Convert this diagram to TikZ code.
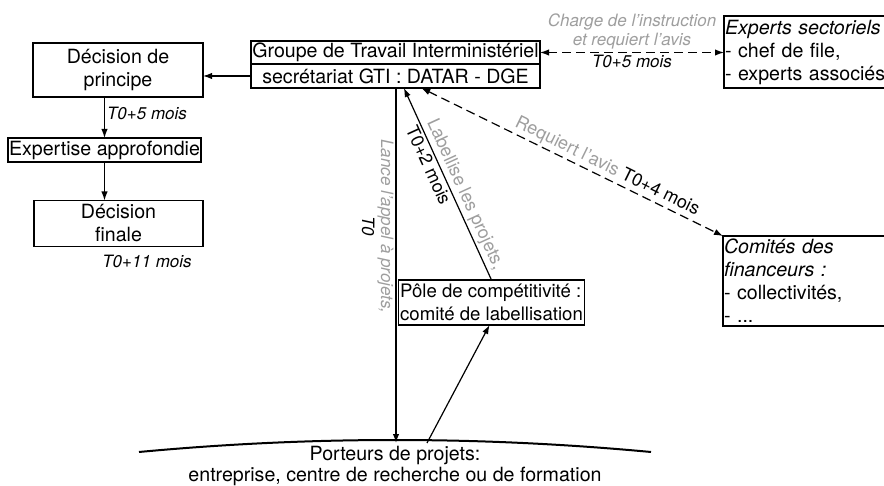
\documentclass[tikz,border=0pt]{standalone}
\usepackage{fontspec}
\setmainfont{TeX Gyre Heros}
\usetikzlibrary{arrows.meta}
\usetikzlibrary{positioning}
\definecolor{labelGray}{HTML}{9E9E9E}

\begin{document}
\begin{tikzpicture}[x=0.5pt,y=-0.5pt,>={Latex[length=4.5pt,width=3.2pt]},line width=0.6pt]
\tikzset{BoxNode/.style={
  draw,
  rectangle,
  align=center,
  inner sep=0.5pt,
  outer sep=0pt,
  font=\fontsize{9.8}{11.5}\selectfont,
}}
\tikzset{ListNode/.style={
  BoxNode,
  align=left,
  anchor=west,
  text width=86pt,
}}
\tikzset{TimeLabel/.style={
  font=\fontsize{8.5}{9.5}\selectfont\itshape,
  inner sep=1pt,
}}
\tikzset{PlainLabel/.style={
  font=\fontsize{9}{10}\selectfont,
  inner sep=1pt,
}}
\tikzset{GrayLabel/.style={
  TimeLabel,
  text=labelGray,
}}
\tikzset{DashedLink/.style={<->, dash pattern=on 4.5pt off 2.5pt}}

\useasboundingbox (0,0) rectangle (884,486);

% GTI
\node[BoxNode, minimum width=144.5pt, minimum height=11.5pt] (gtiTop) at (395.5,52.5) {Groupe de Travail Interministériel};
\node[BoxNode, minimum width=144.5pt, minimum height=12pt, below=0pt of gtiTop] (gtiBot) {secrétariat GTI : DATAR - DGE};

% decisions
\node[BoxNode, minimum width=85pt, minimum height=27pt] (principe) at (118,70) {Décision de\\principe};
\node[BoxNode, minimum width=92.5pt, minimum height=12pt] (expertise) at (104.5,150) {Expertise approfondie};
\node[BoxNode, minimum width=84.5pt, minimum height=23pt] (finale) at (118.5,223.5) {Décision\\finale};
\node[TimeLabel] (tOnze) at (147,261) {T0+11 mois};

% experts, financeurs (cut at the right edge)
\node[ListNode, minimum height=36pt] (experts) at (724,52) {\textit{Experts sectoriels}\\- chef de file,\\- experts associés};
\node[ListNode, minimum height=45pt] (comites) at (723,281) {\textit{Comités des}\\\textit{financeurs :}\\- collectivités,\\- ...};

% pole
\node[BoxNode, align=left, inner xsep=0.8pt, minimum width=88.5pt, minimum height=22.5pt,
      font=\fontsize{9.3}{11.5}\selectfont] (pole) at (491.5,302.5) {Pôle de compétitivité :\\comité de labellisation};

% porteurs
\coordinate (arcL) at (139,452);
\coordinate (arcR) at (651,452);
\coordinate (porteursA) at (396,443);
\coordinate (porteursB) at (427,443);
\draw[line width=1pt] (arcL) .. controls (310,436) and (480,436) .. (arcR);
\node[BoxNode, draw=none, anchor=south, inner sep=0pt, font=\fontsize{9.8}{8.3}\selectfont] (porteurs) at (395,485.5) {Porteurs de projets:\\entreprise, centre de recherche ou de formation};

% links
\draw[->] (gtiBot.west) -- (gtiBot.west -| principe.east);
\draw[->] (principe.south -| expertise.north) -- (expertise.north)
  node[TimeLabel, right, pos=0.4] {T0+5 mois};
\draw[->] (expertise.south) -- (expertise.south |- finale.north);
\draw[DashedLink] (gtiTop.east) -- (gtiTop.east -| experts.west)
  node[GrayLabel, midway, above=0.5pt, align=center] {Charge de l'instruction\\et requiert l'avis}
  node[TimeLabel, midway, below] {T0+5 mois};
\draw[->] (gtiBot.south -| porteursA) -- (porteursA)
  node[GrayLabel, pos=0.39, anchor=north, rotate=-90, align=center] {Lance l'appel à projets,\\\textcolor{black}{T0}};
\draw[<-] (gtiBot.-55) -- (pole.north)
  node[PlainLabel, text=labelGray, sloped, above, pos=0.58] {Labellise les projets,}
  node[PlainLabel, sloped, below, pos=0.38] {T0+2 mois};
\draw[DashedLink] (gtiBot.-25) -- (comites.north west)
  node[PlainLabel, sloped, above, pos=0.6] {\textcolor{labelGray}{Requiert l'avis} T0+4 mois};
\draw[->] (porteursB) -- (pole.-95);
\end{tikzpicture}
\end{document}
